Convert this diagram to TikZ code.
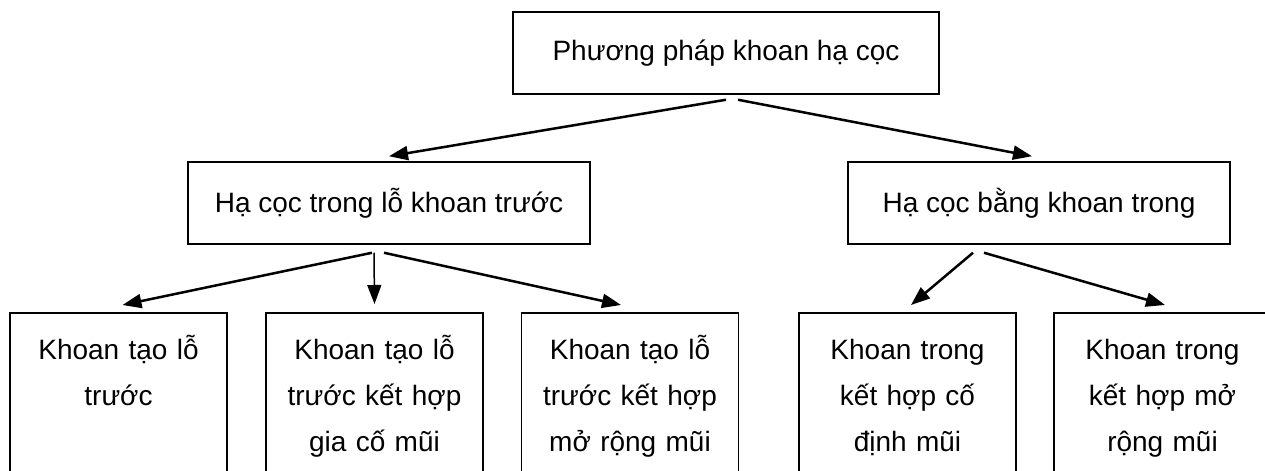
\documentclass[tikz,border=0pt]{standalone}
\usepackage{fontspec}
\setmainfont{Liberation Sans}
\usetikzlibrary{arrows.meta,positioning}

\begin{document}
\begin{tikzpicture}[x=0.5pt,y=-0.5pt,
  box/.style={draw,line width=0.75pt,align=center,font=\fontsize{14}{23}\selectfont},
  leaf/.style={box,anchor=north,text width=108.5pt,inner xsep=0pt,inner ysep=0pt,text height=23.5pt,text depth=90pt},
  arr/.style={-{Triangle[length=9.5pt,width=7pt]},line width=1.25pt}]
\useasboundingbox (0,0) rectangle (1265,471);
\clip (0,0) rectangle (1265,471);

\coordinate (c0) at (726,53);
\coordinate (c1) at (389,203);
\coordinate (c2) at (1039,203);
\coordinate (c3) at (118.5,312);
\coordinate (c4) at (374.5,312);
\coordinate (c5) at (630,312);
\coordinate (c6) at (907.5,312);
\coordinate (c7) at (1162.5,312);

\node (l0) at (c0) [box,minimum width=213pt,minimum height=41pt] {Phương pháp khoan hạ cọc};
\node (l1) at (c1) [box,minimum width=201pt,minimum height=41pt] {Hạ cọc trong lỗ khoan trước};
\node (l2) at (c2) [box,minimum width=191pt,minimum height=41pt] {Hạ cọc bằng khoan trong};
\node (l3) at (c3) [leaf] {Khoan tạo lỗ\\trước};
\node (l4) at (c4) [leaf] {Khoan tạo lỗ\\trước kết hợp\\gia cố mũi};
\node (l5) at (c5) [leaf] {Khoan tạo lỗ\\trước kết hợp\\mở rộng mũi};
\node (l6) at (c6) [leaf] {Khoan trong\\kết hợp cố\\định mũi};
\node (l7) at (c7) [leaf] {Khoan trong\\kết hợp mở\\rộng mũi};

\draw[arr] ([yshift=-2.5pt]l0.south) -- ([yshift=2.5pt]l1.north);
\draw[arr] ([xshift=6pt,yshift=-2.5pt]l0.south) -- ([xshift=-3.5pt,yshift=2.5pt]l2.north);

\draw[arr] ([xshift=-8.5pt,yshift=-4pt]l1.south) -- ([xshift=2pt,yshift=3.5pt]l3.north);
\draw[arr,line width=0.75pt] ([xshift=-7.5pt,yshift=-4pt]l1.south) -- ([yshift=4pt]l4.north);
\draw[arr] ([xshift=-2.5pt,yshift=-4pt]l1.south) -- ([xshift=-4.5pt,yshift=3.5pt]l5.north);

\draw[arr] ([xshift=-33pt,yshift=-4pt]l2.south) -- ([xshift=1.75pt,yshift=3.5pt]l6.north);
\draw[arr] ([xshift=-27.5pt,yshift=-4pt]l2.south) -- ([xshift=1.25pt,yshift=3.5pt]l7.north);
\end{tikzpicture}
\end{document}
